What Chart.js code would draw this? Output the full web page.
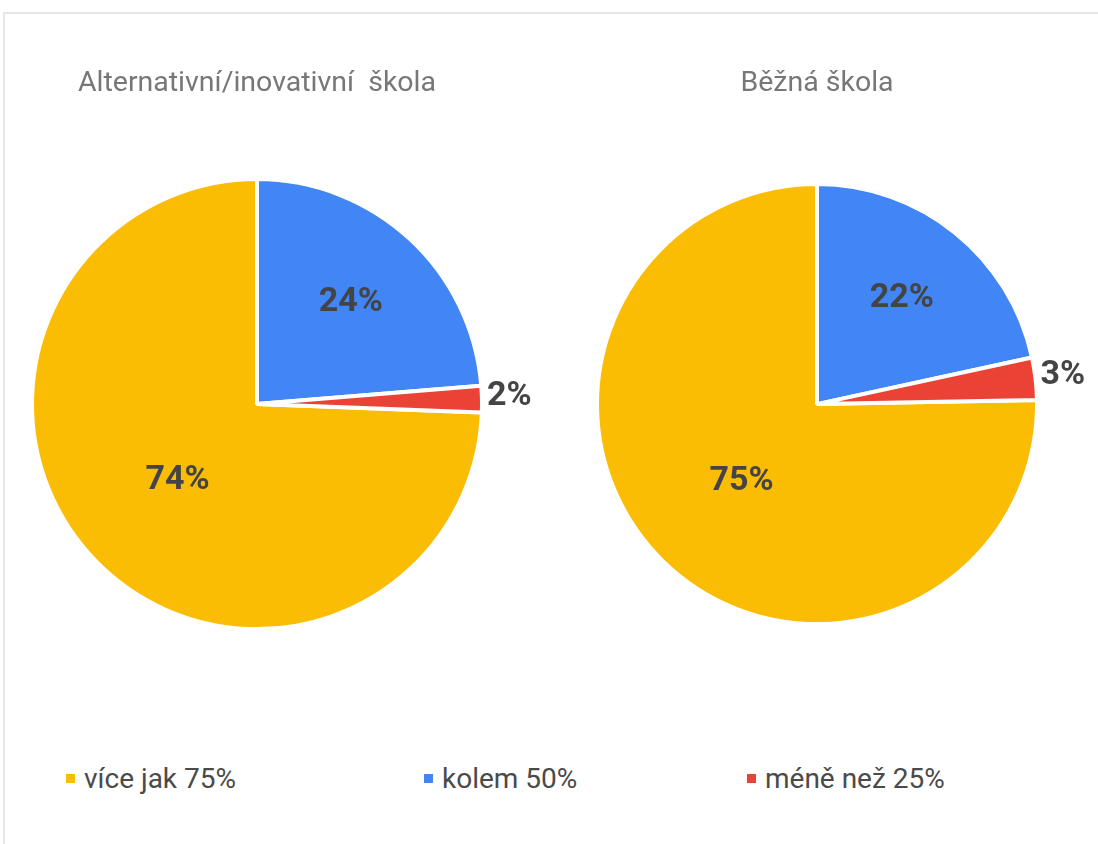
<!DOCTYPE html>
<html>
<head>
<meta charset="utf-8">
<script src="https://cdn.jsdelivr.net/npm/chart.js@4"></script>
<style>
  html, body { margin: 0; padding: 0; background: #fff; }
  body { width: 1098px; height: 844px; position: relative; overflow: hidden; font-family: Roboto, sans-serif; }
  #frame { position: absolute; left: 3px; top: 12px; width: 1100px; height: 850px; border: 2px solid #e6e6e6; box-sizing: border-box; }
  canvas { position: absolute; top: 0; }
  #pieLeft { left: 0; }
  #pieRight { left: 536px; }
  .legend-item { position: absolute; top: 762px; height: 32px; display: flex; align-items: center; font-size: 28px; color: #4a4a4a; white-space: nowrap; }
  .legend-item span.box { width: 9px; height: 9px; margin-right: 9px; display: inline-block; }
</style>
</head>
<body>
<div id="frame"></div>
<canvas id="pieLeft" width="536" height="707"></canvas>
<canvas id="pieRight" width="562" height="707"></canvas>
<div id="legend"></div>

<script>
// --- data ---
const titles = ['Alternativní/inovativní  škola', 'Běžná škola'];
const categories = ['více jak 75%', 'kolem 50%', 'méně než 25%'];
const altValues = [74.4, 23.7, 1.9];   // alternativní/inovativní
const bezValues = [75.3, 21.6, 3.1];   // běžná
const colors = ['#FBBC04', '#4285F4', '#EA4335'];

// percentage labels drawn on / next to the slices
const pieLabels = {
  id: 'pieLabels',
  afterDatasetsDraw(chart, args, opts) {
    const ctx = chart.ctx;
    const ds = chart.data.datasets[0];
    const total = ds.data.reduce((a, b) => a + b, 0);
    chart.getDatasetMeta(0).data.forEach((arc, i) => {
      const p = arc.getProps(['x', 'y', 'startAngle', 'endAngle', 'outerRadius'], true);
      const pct = Math.round(ds.data[i] / total * 100);
      const mid = (p.startAngle + p.endAngle) / 2;
      ctx.save();
      ctx.fillStyle = '#444444';
      ctx.font = 'bold 34px Roboto';
      if (pct < 5) {
        const d = p.outerRadius + 5;
        ctx.textAlign = 'left';
        ctx.textBaseline = 'alphabetic';
        ctx.fillText(pct + '%', p.x + Math.cos(mid) * d, p.y + Math.sin(mid) * d + 6);
      } else {
        const d = p.outerRadius * opts.inside[i];
        ctx.textAlign = 'center';
        ctx.textBaseline = 'middle';
        ctx.fillText(pct + '%', p.x + Math.cos(mid) * d, p.y + Math.sin(mid) * d);
      }
      ctx.restore();
    });
  }
};

function makePie(id, title, values, radius, padRight) {
  const total = values.reduce((a, b) => a + b, 0);
  return new Chart(document.getElementById(id), {
    type: 'pie',
    data: {
      labels: categories,
      datasets: [{
        data: values,
        backgroundColor: colors,
        borderColor: '#ffffff',
        borderWidth: 4,
        radius: radius
      }]
    },
    options: {
      responsive: false,
      animation: false,
      // first slice (yellow) ends at 12 o'clock
      rotation: (1 - values[0] / total) * 360,
      layout: { padding: { right: padRight } },
      plugins: {
        legend: { display: false },
        tooltip: { enabled: false },
        title: {
          display: true,
          text: title,
          color: '#777777',
          font: { family: 'Roboto', size: 28.5, weight: 'normal' },
          padding: { top: 67, bottom: 0 }
        },
        pieLabels: { inside: [0.49, 0.615] }
      }
    },
    plugins: [pieLabels]
  });
}

makePie('pieLeft', titles[0], altValues, 225, 22);
makePie('pieRight', titles[1], bezValues, 220, 0);

// shared legend
const legendX = [66, 424, 747];
const legend = document.getElementById('legend');
categories.forEach((c, i) => {
  const item = document.createElement('div');
  item.className = 'legend-item';
  item.style.left = legendX[i] + 'px';
  item.innerHTML = '<span class="box" style="background:' + colors[i] + '"></span>' + c;
  legend.appendChild(item);
});
</script>
</body>
</html>
